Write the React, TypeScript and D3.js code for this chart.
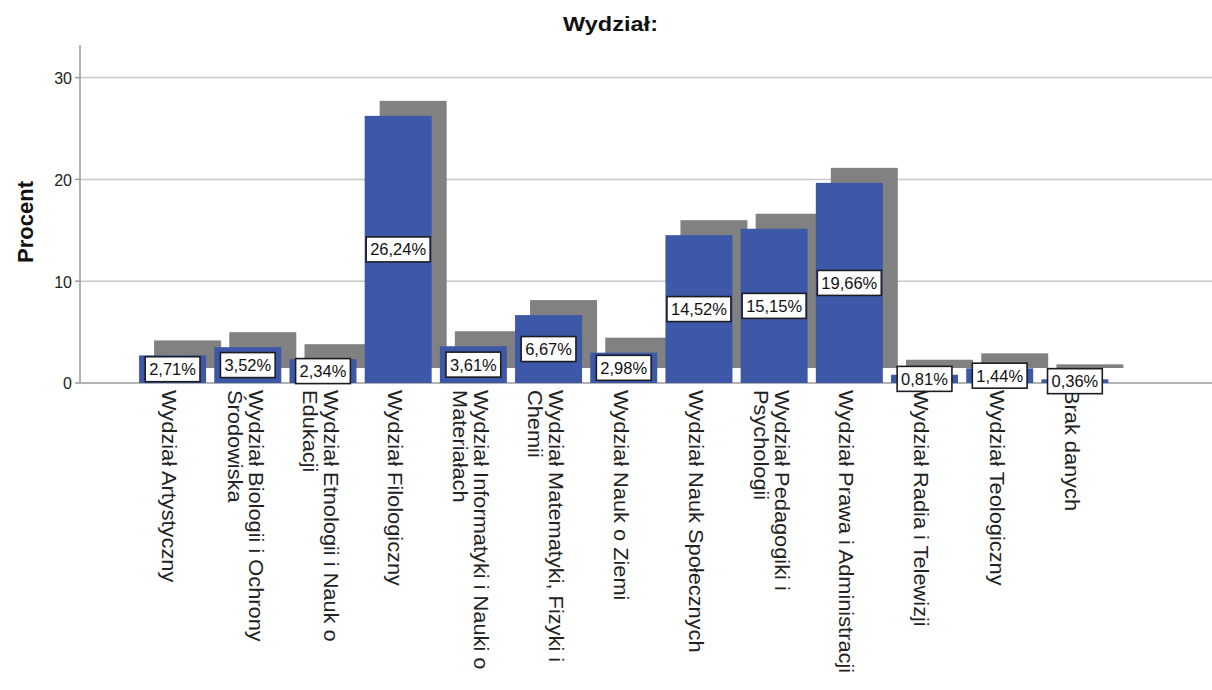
import React from "react";
import * as d3 from "d3";

const categories: string[][] = [
  ["Wydział Artystyczny"],
  ["Wydział Biologii i Ochrony", "Środowiska"],
  ["Wydział Etnologii i Nauk o", "Edukacji"],
  ["Wydział Filologiczny"],
  ["Wydział Informatyki i Nauki o", "Materiałach"],
  ["Wydział Matematyki, Fizyki i", "Chemii"],
  ["Wydział Nauk o Ziemi"],
  ["Wydział Nauk Społecznych"],
  ["Wydział Pedagogiki i", "Psychologii"],
  ["Wydział Prawa i Administracji"],
  ["Wydział Radia i Telewizji"],
  ["Wydział Teologiczny"],
  ["Brak danych"],
];
const percentValues: number[] = [2.71, 3.52, 2.34, 26.24, 3.61, 6.67, 2.98, 14.52, 15.15, 19.66, 0.81, 1.44, 0.36];
const yTicks: number[] = [0, 10, 20, 30];
const title = "Wydział:";
const yTitle = "Procent";

const W = 1212;
const H = 690;
const FONT = "'Liberation Sans', Arial, sans-serif";
const BLUE = "#3e58a8";
const GRAY = "#818181";
const DEPTH = 15;

function fmt(v: number): string {
  return v.toFixed(2).replace(".", ",") + "%";
}

let ctx: CanvasRenderingContext2D | null = null;
function measure(text: string, font: string): number {
  if (!ctx) {
    const c = document.createElement("canvas");
    ctx = c.getContext("2d");
  }
  if (!ctx) return text.length * 8;
  ctx.font = font;
  return ctx.measureText(text).width;
}

export default function App() {
  const keys = categories.map((c) => c.join(" "));
  const x = d3.scaleBand<string>().domain(keys).range([135, 1112.5]).paddingInner(0.109).paddingOuter(0.0545);
  const y = d3.scaleLinear().domain([0, 33.2]).range([383, 45]);
  const axisX = 80;
  const y0 = y(0);
  const bw = x.bandwidth();
  const labelFontSize = 16.5;
  const catFontSize = 20;

  return (
    <svg width={W} height={H} style={{ position: "absolute", left: 0, top: 0, background: "#fff" }} fontFamily={FONT}>
      <rect x={0} y={0} width={W} height={H} fill="#fff" />
      <text x={610.5} y={31} textAnchor="middle" fontSize={21} fontWeight="bold" fill="#111" textLength={95} lengthAdjust="spacingAndGlyphs">
        {title}
      </text>
      <text transform={`translate(33, 222) rotate(-90)`} textAnchor="middle" fontSize={22} fontWeight="bold" fill="#111">
        {yTitle}
      </text>
      {/* grid */}
      {yTicks.map((t) => (
        <g key={t}>
          <line x1={axisX} x2={W} y1={y(t)} y2={y(t)} stroke={t === 0 ? "#9a9a9a" : "#c8c8c8"} strokeWidth={1.5} />
          <line x1={axisX - 5} x2={axisX} y1={y(t)} y2={y(t)} stroke="#9a9a9a" strokeWidth={1.5} />
          <text x={72} y={y(t)} dy="0.4em" textAnchor="end" fontSize={16} fill="#222">
            {t}
          </text>
        </g>
      ))}
      <line x1={axisX} x2={axisX} y1={45} y2={y0} stroke="#9a9a9a" strokeWidth={1.5} />
      {/* shadows */}
      {keys.map((k, i) => {
        const bx = (x(k) as number) + DEPTH;
        const top = y(percentValues[i]) - DEPTH;
        const bottom = y0 - DEPTH;
        return <rect key={"s" + k} x={bx} y={top} width={bw} height={Math.max(0, bottom - top)} fill={GRAY} />;
      })}
      {/* bars */}
      {keys.map((k, i) => {
        const bx = x(k) as number;
        const top = y(percentValues[i]);
        return <rect key={"b" + k} x={bx} y={top} width={bw} height={y0 - top} fill={BLUE} />;
      })}
      {/* category labels */}
      {categories.map((lines, i) => {
        const cx = (x(keys[i]) as number) + bw / 2;
        const n = lines.length;
        return (
          <g key={"c" + i}>
            {lines.map((ln, j) => {
              const center = n === 1 ? cx - 5 : cx + 6 - j * 21;
              const base = center - 0.255 * catFontSize;
              return (
                <text
                  key={j}
                  transform={`translate(${base}, 390) rotate(90) scale(1.09, 1)`}
                  fontSize={catFontSize}
                  fill="#222"
                >
                  {ln}
                </text>
              );
            })}
          </g>
        );
      })}
      {/* value labels */}
      {keys.map((k, i) => {
        const cx = (x(k) as number) + bw / 2;
        const cy = (y(percentValues[i]) + y0) / 2;
        const txt = fmt(percentValues[i]);
        const tw = measure(txt, `${labelFontSize}px ${FONT}`);
        const bwBox = tw + 8;
        const bh = 25;
        return (
          <g key={"v" + k}>
            <rect x={cx - bwBox / 2} y={cy - bh / 2} width={bwBox} height={bh} fill="#fff" stroke="#1c1c24" strokeWidth={1.6} />
            <text x={cx} y={cy} dy="0.36em" textAnchor="middle" fontSize={labelFontSize} fill="#111">
              {txt}
            </text>
          </g>
        );
      })}
    </svg>
  );
}
